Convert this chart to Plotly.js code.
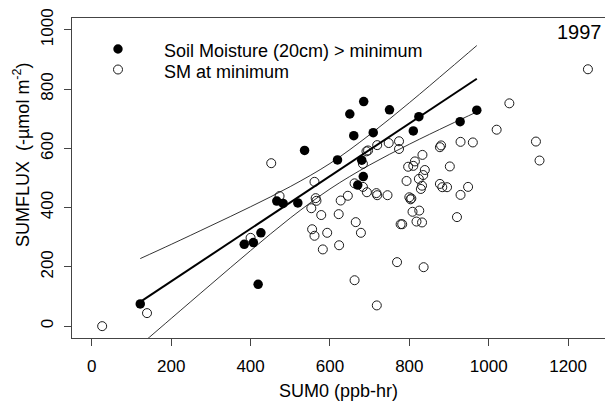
<!DOCTYPE html>
<html>
<head>
<meta charset="utf-8">
<script src="https://cdn.plot.ly/plotly-3.0.1.min.js"></script>
<style>
html,body{margin:0;padding:0;background:#fff;overflow:hidden;}
#chart{width:605px;height:403px;}
</style>
</head>
<body>
<div id="chart"></div>
<script>
// SM > minimum (filled)
const wetX = [122, 384, 407, 426, 419, 466, 482, 519, 536, 619, 650, 660, 685, 680, 684, 670, 709, 750, 810, 824, 928, 970];
const wetY = [75, 276, 282, 315, 141, 422, 414, 416, 593, 561, 716, 643, 758, 560, 505, 476, 653, 730, 659, 707, 690, 729];

// SM at minimum (open)
const dryX = [26, 139, 400, 452, 473, 561, 553, 564, 566, 555, 561, 578, 582, 593, 622, 623, 627, 645, 662, 665, 678, 662, 683, 683,
  692, 696, 693, 717, 719, 719, 718, 748, 745, 769, 774, 774, 778, 782, 793, 797, 800, 803, 805, 808, 810, 814, 818, 824, 825, 829,
  832, 832, 833, 835, 839, 836, 877, 880, 877, 883, 895, 902, 920, 929, 929, 948, 960, 1020, 1052, 1119, 1128, 1250];
const dryY = [0, 44, 298, 550, 439, 487, 398, 432, 423, 327, 305, 375, 259, 315, 378, 273, 424, 440, 155, 351, 315, 482, 548, 470,
  590, 593, 452, 449, 442, 611, 70, 618, 442, 216, 624, 598, 344, 344, 490, 538, 435, 428, 431, 386, 541, 556, 353, 497, 390, 463,
  474, 350, 578, 510, 527, 199, 604, 610, 480, 469, 469, 539, 368, 443, 622, 470, 620, 663, 752, 623, 559, 867];

// regression line and confidence band
const fitX = [122, 970];
const fitY = [82, 835];
const bandX = [122, 200, 300, 400, 500, 600, 700, 800, 900, 970];
const upperY = [228, 276, 339, 403, 471, 549, 646, 754, 867, 947];
const lowerY = [-64, 26, 141, 255, 365, 463, 544, 614, 679, 723];

const xTicks = [0, 200, 400, 600, 800, 1000, 1200];
const yTicks = [0, 200, 400, 600, 800, 1000];
const seriesNames = ['Soil Moisture (20cm) > minimum', 'SM at minimum'];

const FONT = 'Liberation Sans, Arial, Helvetica, sans-serif';
const AX = '#444';

const traces = [
  {x: dryX, y: dryY, type: 'scatter', mode: 'markers', name: seriesNames[1], showlegend: false,
   marker: {symbol: 'circle-open', size: 9, color: '#1a1a1a', line: {width: 1, color: '#1a1a1a'}}},
  {x: wetX, y: wetY, type: 'scatter', mode: 'markers', name: seriesNames[0], showlegend: false,
   marker: {symbol: 'circle', size: 9.5, color: '#000'}},
  {x: fitX, y: fitY, type: 'scatter', mode: 'lines', showlegend: false, hoverinfo: 'skip',
   line: {color: '#000', width: 2}},
  {x: bandX, y: upperY, type: 'scatter', mode: 'lines', showlegend: false, hoverinfo: 'skip',
   line: {color: '#000', width: 0.8, shape: 'spline'}},
  {x: bandX, y: lowerY, type: 'scatter', mode: 'lines', showlegend: false, hoverinfo: 'skip',
   line: {color: '#000', width: 0.8, shape: 'spline'}}
];

// plot area geometry for placing the hand-made legend (pixels -> paper)
const PL = 72, PW = 533, PB = 338, PH = 320;
const px = v => (v - PL) / PW;
const py = v => (PB - v) / PH;

const legendShapes = [
  {type: 'circle', xref: 'paper', yref: 'paper', xsizemode: 'pixel', ysizemode: 'pixel',
   xanchor: px(118), yanchor: py(49), x0: -4.7, x1: 4.7, y0: -4.7, y1: 4.7,
   fillcolor: '#000', line: {width: 0}},
  {type: 'circle', xref: 'paper', yref: 'paper', xsizemode: 'pixel', ysizemode: 'pixel',
   xanchor: px(118), yanchor: py(69.5), x0: -4.5, x1: 4.5, y0: -4.5, y1: 4.5,
   fillcolor: 'rgba(0,0,0,0)', line: {width: 1, color: '#1a1a1a'}}
];

const layout = {
  width: 605, height: 403,
  margin: {l: PL, r: 0, t: 18, b: 65, pad: 0},
  paper_bgcolor: '#fff', plot_bgcolor: '#fff',
  font: {family: FONT, color: '#000', size: 17},
  showlegend: false,
  xaxis: {range: [-50, 1293], tickvals: xTicks, ticktext: xTicks.map(String),
          showgrid: false, zeroline: false, showline: true, mirror: true, linecolor: AX, linewidth: 1,
          ticks: 'outside', ticklen: 7, tickcolor: AX, tickwidth: 1, tickfont: {size: 17},
          ticklabelstandoff: 6,
          title: {text: 'SUM0 (ppb-hr)', font: {size: 18}, standoff: 8}},
  yaxis: {range: [-40, 1040], tickvals: yTicks, ticktext: yTicks.map(String), tickangle: -90,
          showgrid: false, zeroline: false, showline: true, mirror: false, linecolor: AX, linewidth: 1,
          ticks: 'outside', ticklen: 7, tickcolor: AX, tickwidth: 1, tickfont: {size: 17},
          ticklabelstandoff: 4},
  shapes: legendShapes,
  annotations: [
    {text: '1997', xref: 'paper', yref: 'paper', x: 0.9985, y: 0.955, xanchor: 'right', yanchor: 'middle',
     showarrow: false, font: {size: 20, color: '#000'}},
    {text: seriesNames[0], xref: 'paper', yref: 'paper', x: px(161.5), y: py(50.5), xanchor: 'left', yanchor: 'middle',
     showarrow: false, font: {size: 18, color: '#000'}},
    {text: seriesNames[1], xref: 'paper', yref: 'paper', x: px(161.5), y: py(71.5), xanchor: 'left', yanchor: 'middle',
     showarrow: false, font: {size: 18, color: '#000'}},
    {text: 'SUMFLUX\u00a0\u00a0(-\u00b5mol m<sup>-2</sup>)', xref: 'paper', yref: 'paper', x: px(21), y: py(155),
     xanchor: 'center', yanchor: 'middle', textangle: -90, showarrow: false, font: {size: 18, color: '#000'}}
  ]
};

Plotly.newPlot('chart', traces, layout, {displayModeBar: false, staticPlot: true});
</script>
</body>
</html>
